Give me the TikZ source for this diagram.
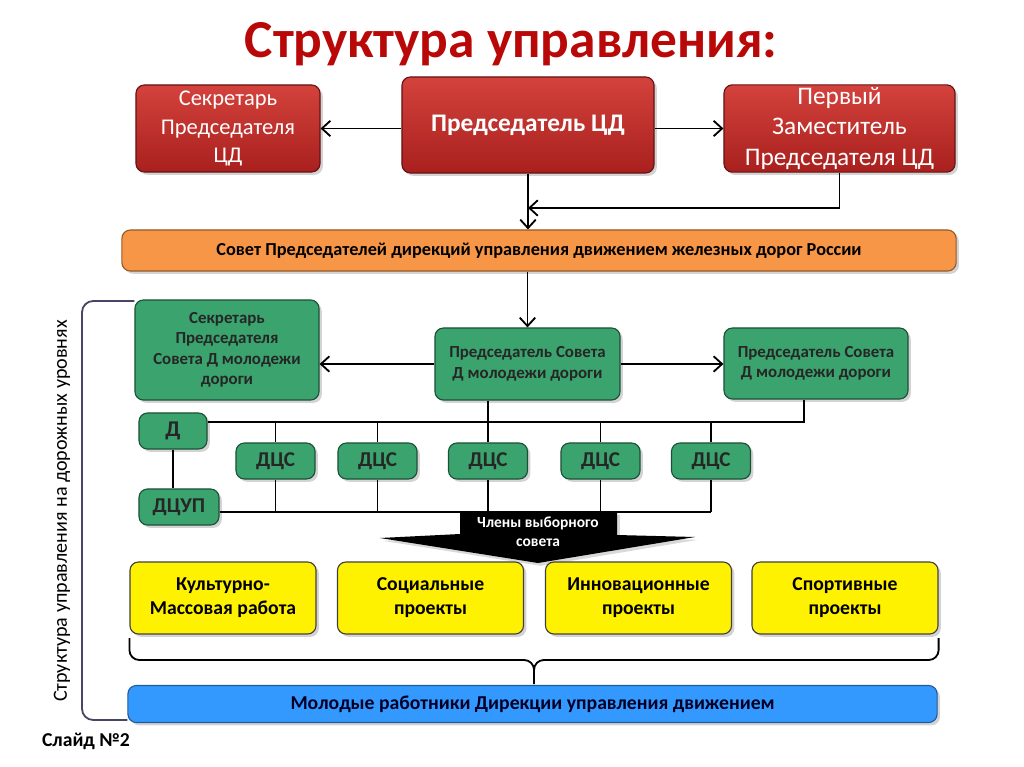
\documentclass[tikz,border=0pt]{standalone}
\usepackage{fontspec}
\setmainfont{Carlito}
\usetikzlibrary{shadows,arrows.meta}

\definecolor{titleRed}{RGB}{184,8,8}
\definecolor{redTop}{RGB}{212,66,60}
\definecolor{redBottom}{RGB}{168,32,30}
\definecolor{greenFill}{RGB}{58,163,110}
\definecolor{orangeFill}{RGB}{247,150,70}
\definecolor{blueFill}{RGB}{51,153,255}
\definecolor{bracketColor}{RGB}{70,70,100}

\begin{document}
\begin{tikzpicture}
[x=0.025cm,y=-0.025cm,
  boxDecorate/.style={shape=rectangle,rounded corners=6pt,draw,thick,align=center,inner sep=2pt,
    drop shadow={opacity=0.35,shadow xshift=2pt,shadow yshift=-2pt}},
  redBox/.style={boxDecorate,draw=redBottom!60!black,top color=redTop,bottom color=redBottom,
    text=white,font=\fontsize{16}{20}\selectfont},
  greenBox/.style={boxDecorate,draw=greenFill!50!black,fill=greenFill,text=black!85,
    font=\bfseries\fontsize{12}{14.5}\selectfont},
  yellowBox/.style={boxDecorate,draw=black!75,fill=yellow,text=black,
    minimum width=4.65cm,minimum height=1.8cm,font=\bfseries\fontsize{14}{17}\selectfont},
  lineDecorate/.style={-,line width=1.3pt},
  arrowDecorate/.style={-{Straight Barb[length=6pt,width=11pt]},line width=1.3pt}]
\useasboundingbox (0,0) rectangle (1024,767);
%% title
\node (title) at (511,44) [font=\bfseries\fontsize{38}{42}\selectfont,text=titleRed] {Структура управления:};
%% central directorate
\node (secCD) at (228,128.5) [redBox,minimum width=4.6cm,minimum height=2.175cm] {Секретарь\\Председателя\\ЦД};
\node (chairCD) at (528,125) [redBox,minimum width=6.3cm,minimum height=2.4cm,font=\bfseries\fontsize{18}{22}\selectfont] {Председатель ЦД};
\node (firstCD) at (839.5,128.5) [redBox,minimum width=5.775cm,minimum height=2.175cm,font=\fontsize{18}{21.5}\selectfont] {Первый\\Заместитель\\Председателя ЦД};
\node (council) at (539,250.5) [boxDecorate,draw=orangeFill!60!black,fill=orangeFill,minimum width=20.85cm,minimum height=1.025cm,
  font=\bfseries\fontsize{13}{16}\selectfont] {Совет Председателей дирекций управления движением железных дорог России};
%% road level
\node (secRD) at (227,350) [greenBox,minimum width=4.6cm,minimum height=2.5cm] {Секретарь\\Председателя\\Совета Д молодежи\\дороги};
\node (chairRD) at (527.5,364) [greenBox,minimum width=4.625cm,minimum height=1.8cm] {Председатель Совета\\Д молодежи дороги};
\node (deputyRD) at (816,363.5) [greenBox,minimum width=4.6cm,minimum height=1.775cm] {Председатель Совета\\Д молодежи дороги};
\node (D) at (173,431) [greenBox,minimum width=1.7cm,minimum height=0.9cm,font=\bfseries\fontsize{16}{19}\selectfont] {Д};
\node (DCUP) at (179,507) [greenBox,minimum width=2cm,minimum height=0.9cm,font=\bfseries\fontsize{15}{18}\selectfont] {ДЦУП};
\foreach \nodename/\x in {dcsA/275.5, dcsB/377.5, dcsC/488, dcsD/600.5, dcsE/711}
{
  \node (\nodename) at (\x,461) [greenBox,minimum width=1.975cm,minimum height=0.9cm,font=\bfseries\fontsize{15}{18}\selectfont] {ДЦС};
}
%% elected council arrow
\fill[black,drop shadow={opacity=0.3,shadow xshift=2pt,shadow yshift=-2pt}]
  (460,512) -- (617,512) -- (617,535) -- (695,537) -- (538,563) -- (380,538) -- (460,534) -- cycle;
\node (members) at (538,532) [align=center,text=white,font=\bfseries\fontsize{11}{13.5}\selectfont] {Члены выборного\\совета};
%% projects
\foreach \nodename/\x/\label in {
  culture/223/{Культурно-\\Массовая работа}, social/430.5/{Социальные\\проекты},
  innovation/638.5/{Инновационные\\проекты}, sport/845/{Спортивные\\проекты}}
{
  \node (\nodename) at (\x,598) [yellowBox] {\label};
}
\node (youth) at (532.5,704) [boxDecorate,draw=blueFill!60!black,fill=blueFill,minimum width=20.225cm,minimum height=0.925cm,
  text=black!85!blue,font=\bfseries\fontsize{14}{17}\selectfont] {Молодые работники Дирекции управления движением};
%% side labels
\node (levels) at (62,511) [rotate=90,font=\fontsize{14.3}{17}\selectfont] {Структура управления на дорожных уровнях};
\node (slide) at (86,741) [font=\bfseries\fontsize{14}{17}\selectfont] {Слайд №2};
%% edges or lines
\coordinate (joinCD) at (chairCD.south |- 0,208);
\coordinate (busTop) at (0,422);
\coordinate (busBottom) at (0,512);
\draw[arrowDecorate] (chairCD.west |- secCD.east) -- (secCD.east);
\draw[arrowDecorate] (chairCD.east |- firstCD.west) -- (firstCD.west);
\draw[arrowDecorate] (chairCD.south) -- (chairCD.south |- council.north);
\draw[arrowDecorate] (firstCD.south) |- (joinCD);
\draw[arrowDecorate] (chairRD.north |- council.south) -- (chairRD.north);
\draw[arrowDecorate] (chairRD.west) -- (chairRD.west -| secRD.east);
\draw[arrowDecorate] (chairRD.east) -- (chairRD.east -| deputyRD.west);
\draw[lineDecorate] (D.east |- busTop) -- ([xshift=-0.3cm]deputyRD.south |- busTop) -- ([xshift=-0.3cm]deputyRD.south);
\draw[lineDecorate] (chairRD.south -| dcsC.north) -- (dcsC.north);
\draw[lineDecorate] (DCUP.east |- busBottom) -- (busBottom -| dcsE.south);
\draw[lineDecorate] (D.south) -- (D.south |- DCUP.north);
\foreach \nodename in {dcsA, dcsB, dcsC, dcsD, dcsE}
{
  \draw[lineDecorate] (\nodename.north) -- (\nodename.north |- busTop);
  \draw[lineDecorate] (\nodename.south) -- (\nodename.south |- busBottom);
}
%% braces
\draw[lineDecorate,rounded corners=7pt] (culture.south west |- 0,638) -- (culture.south west |- 0,660)
  -- (534,660) -- (534,684);
\draw[lineDecorate,rounded corners=7pt] (534,672) -- (534,660) -- (sport.south east |- 0,660) -- (sport.south east |- 0,638);
\draw[line width=1.3pt,draw=bracketColor,rounded corners=8pt] (secRD.north west |- 0,301) -- (82,301) -- (82,720) -- (youth.south west |- 0,720);
\end{tikzpicture}
\end{document}
